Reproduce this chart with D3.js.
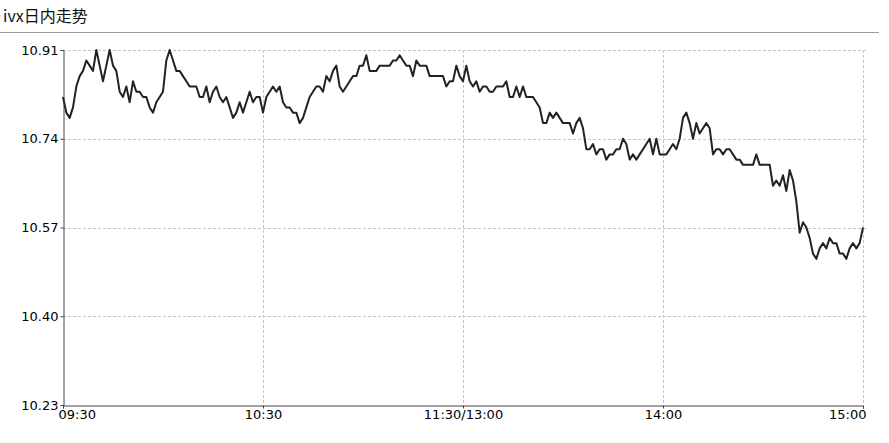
<!DOCTYPE html>
<html><head><meta charset="utf-8">
<script src="https://cdn.jsdelivr.net/npm/d3@7"></script>
<style>
body{margin:0;background:#fff;}
svg{display:block;}
</style></head>
<body>
<svg id="chart" width="889" height="443"></svg>
<script>
const title = "ivx日内走势";
const yTicks = [10.23, 10.40, 10.57, 10.74, 10.91];
const xTickIndex = [0, 60, 120, 180, 240];
const xTickLabels = ["09:30", "10:30", "11:30/13:00", "14:00", "15:00"];
// one value per trading minute (241 points)
const values = [
10.82,10.79,10.78,10.80,10.84,10.86,10.87,10.89,10.88,10.87,
10.91,10.88,10.85,10.88,10.91,10.88,10.87,10.83,10.82,10.84,
10.81,10.85,10.83,10.83,10.82,10.82,10.80,10.79,10.81,10.82,
10.83,10.89,10.91,10.89,10.87,10.87,10.86,10.85,10.84,10.84,
10.84,10.82,10.82,10.84,10.81,10.83,10.84,10.82,10.81,10.82,
10.80,10.78,10.79,10.81,10.79,10.81,10.83,10.81,10.82,10.82,
10.79,10.82,10.83,10.84,10.83,10.84,10.81,10.80,10.80,10.79,
10.79,10.77,10.78,10.80,10.82,10.83,10.84,10.84,10.83,10.86,
10.85,10.87,10.88,10.84,10.83,10.84,10.85,10.86,10.86,10.88,
10.88,10.90,10.87,10.87,10.87,10.88,10.88,10.88,10.88,10.89,
10.89,10.90,10.89,10.88,10.88,10.86,10.89,10.88,10.88,10.88,
10.86,10.86,10.86,10.86,10.86,10.84,10.85,10.85,10.88,10.86,
10.85,10.88,10.85,10.84,10.85,10.83,10.84,10.84,10.83,10.83,
10.84,10.84,10.84,10.85,10.82,10.82,10.84,10.82,10.84,10.82,
10.82,10.82,10.81,10.80,10.77,10.77,10.79,10.78,10.79,10.78,
10.77,10.77,10.77,10.75,10.77,10.78,10.76,10.72,10.72,10.73,
10.71,10.72,10.72,10.70,10.71,10.71,10.72,10.72,10.74,10.73,
10.70,10.71,10.70,10.71,10.72,10.73,10.74,10.71,10.74,10.71,
10.71,10.71,10.72,10.73,10.72,10.74,10.78,10.79,10.77,10.74,
10.77,10.75,10.76,10.77,10.76,10.71,10.72,10.72,10.71,10.72,
10.72,10.71,10.70,10.70,10.69,10.69,10.69,10.69,10.71,10.69,
10.69,10.69,10.69,10.65,10.66,10.65,10.67,10.64,10.68,10.66,
10.62,10.56,10.58,10.57,10.55,10.52,10.51,10.53,10.54,10.53,
10.55,10.54,10.54,10.52,10.52,10.51,10.53,10.54,10.53,10.54,
10.57
];

const svg = d3.select("#chart");
const mLeft = 63, mRight = 863, mTop = 50, mBottom = 405;

// title
svg.append("text").attr("x", 3).attr("y", 22)
  .attr("font-family", "'Noto Sans CJK SC', 'Noto Sans', sans-serif")
  .attr("font-size", 16).attr("fill", "#111").text(title);
svg.append("line").attr("x1", 0).attr("x2", 879).attr("y1", 32.5).attr("y2", 32.5)
  .attr("stroke", "#9a9a9a").attr("stroke-width", 1);

const x = d3.scaleLinear().domain([0, 240]).range([mLeft, mRight]);
const y = d3.scaleLinear().domain([10.23, 10.91]).range([mBottom, mTop]);

// grid
const grid = svg.append("g");
grid.selectAll("line.h").data(yTicks.slice(1)).join("line")
  .attr("x1", mLeft).attr("x2", mRight + 3)
  .attr("y1", d => Math.round(y(d)) + 0.5).attr("y2", d => Math.round(y(d)) + 0.5)
  .attr("stroke", "#c4c4c4").attr("stroke-dasharray", "3,2");
grid.selectAll("line.v").data(xTickIndex.slice(1)).join("line")
  .attr("x1", d => Math.round(x(d)) + 0.5).attr("x2", d => Math.round(x(d)) + 0.5)
  .attr("y1", mTop).attr("y2", mBottom)
  .attr("stroke", "#c4c4c4").attr("stroke-dasharray", "3,2");

// axes
const yAxis = d3.axisLeft(y).tickValues(yTicks).tickFormat(d3.format(".2f")).tickSize(3).tickPadding(2);
const gy = svg.append("g").attr("transform", `translate(${mLeft + 0.5},0)`).call(yAxis);
gy.select(".domain").attr("stroke", "#444");
gy.selectAll(".tick line").attr("stroke", "#444");
gy.selectAll("text").attr("font-family", "'DejaVu Sans', sans-serif").attr("font-size", 13).attr("fill", "#000");

const xAxis = d3.axisBottom(x).tickValues(xTickIndex).tickFormat((d, i) => xTickLabels[i]).tickSize(3).tickPadding(1);
const gx = svg.append("g").attr("transform", `translate(0,${mBottom + 0.5})`).call(xAxis);
gx.select(".domain").attr("stroke", "#444");
gx.selectAll(".tick line").attr("stroke", "#444");
gx.selectAll("text").attr("font-family", "'DejaVu Sans', sans-serif").attr("font-size", 13).attr("fill", "#000")
  .attr("text-anchor", (d, i) => i === 0 ? "start" : (i === xTickIndex.length - 1 ? "end" : "middle"))
  .attr("dx", (d, i) => i === 0 ? -5 : (i === xTickIndex.length - 1 ? 3 : 0));

// line
const line = d3.line().x((d, i) => x(i)).y(d => y(d));
svg.append("path").datum(values).attr("d", line)
  .attr("fill", "none").attr("stroke", "#222").attr("stroke-width", 2).attr("stroke-linejoin", "round");
</script>
</body></html>
